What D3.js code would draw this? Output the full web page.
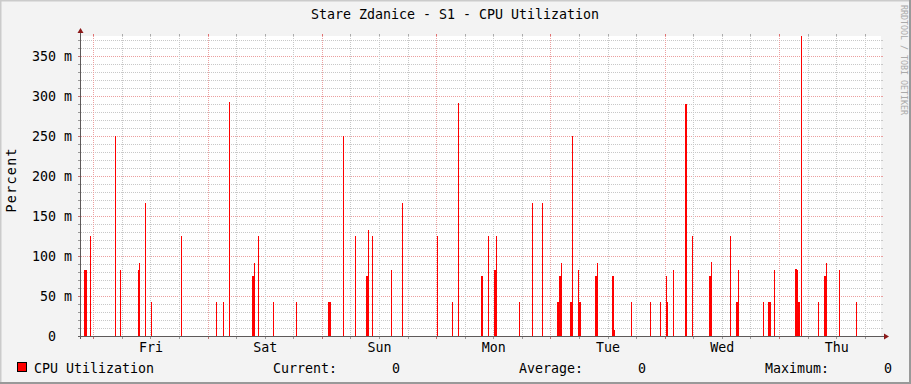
<!DOCTYPE html>
<html><head><meta charset="utf-8">
<script src="https://cdn.jsdelivr.net/npm/d3@7"></script>
<style>
html,body{margin:0;padding:0;background:#f3f3f3;}
svg{display:block;}
text{font-family:"DejaVu Sans Mono",monospace;font-size:13.3px;fill:#000;}
</style></head>
<body>
<svg id="chart" width="911" height="384"></svg>
<script>
// ---------------- data ----------------
const chartTitle = "Stare Zdanice - S1 - CPU Utilization";
const yAxisLabel = "Percent";
const watermark = "RRDTOOL / TOBI OETIKER";
const timeStart = "2024-02-29 21:25";
const timeEnd   = "2024-03-07 21:25";
const yMax = 0.375;
const yTickValues = [0, 0.05, 0.10, 0.15, 0.20, 0.25, 0.30, 0.35];
const yTickLabels = ["0", "50 m", "100 m", "150 m", "200 m", "250 m", "300 m", "350 m"];
const seriesName = "CPU Utilization";
const legendStats = [["Current:", "0"], ["Average:", "0"], ["Maximum:", "0"]];

// start time of each sample run, its duration (minutes) and value (fraction of percent)
const spikeTimes = [
 "2024-02-29 22:03","2024-02-29 23:18",
 "2024-03-01 04:30","2024-03-01 05:36","2024-03-01 09:27","2024-03-01 09:40","2024-03-01 10:51","2024-03-01 12:07","2024-03-01 18:21",
 "2024-03-02 01:46","2024-03-02 03:14","2024-03-02 04:30","2024-03-02 09:20","2024-03-02 09:41","2024-03-02 10:35","2024-03-02 13:44","2024-03-02 18:34",
 "2024-03-03 01:17","2024-03-03 04:22","2024-03-03 06:57","2024-03-03 09:16","2024-03-03 09:41","2024-03-03 10:32","2024-03-03 14:31","2024-03-03 16:50",
 "2024-03-04 00:11","2024-03-04 03:20","2024-03-04 04:36","2024-03-04 09:25","2024-03-04 10:49","2024-03-04 12:09","2024-03-04 12:30","2024-03-04 17:24","2024-03-04 20:08","2024-03-04 22:14",
 "2024-03-05 01:23","2024-03-05 01:48","2024-03-05 02:13","2024-03-05 04:06","2024-03-05 04:28","2024-03-05 05:47","2024-03-05 06:04","2024-03-05 09:21","2024-03-05 09:46","2024-03-05 12:56","2024-03-05 13:21","2024-03-05 16:55","2024-03-05 20:54","2024-03-05 23:00",
 "2024-03-06 00:12","2024-03-06 00:29","2024-03-06 01:44","2024-03-06 04:19","2024-03-06 05:44","2024-03-06 09:18","2024-03-06 09:43","2024-03-06 13:42","2024-03-06 14:58","2024-03-06 15:19","2024-03-06 20:38","2024-03-06 21:41","2024-03-06 22:57",
 "2024-03-07 03:21","2024-03-07 03:43","2024-03-07 04:03","2024-03-07 04:33","2024-03-07 08:11","2024-03-07 09:23","2024-03-07 09:48","2024-03-07 12:36","2024-03-07 16:10"
];
const spikeMinutes = [
 38,10,
 10,10,10,10,10,10,10,
 10,10,10,20,10,10,10,10,
 38,12,10,20,10,10,10,10,
 10,10,10,25,10,20,10,10,10,10,
 25,25,10,20,10,10,20,25,10,25,10,10,10,10,
 10,10,10,25,10,20,10,10,20,10,10,38,10,
 20,15,25,10,10,20,10,10,10
];
const spikeValues = [
 0.083,0.125,
 0.250,0.083,0.083,0.091,0.166,0.042,0.125,
 0.042,0.042,0.293,0.075,0.091,0.125,0.042,0.042,
 0.042,0.250,0.125,0.075,0.133,0.125,0.083,0.166,
 0.125,0.042,0.291,0.075,0.125,0.083,0.125,0.042,0.166,0.166,
 0.042,0.075,0.091,0.042,0.250,0.083,0.042,0.075,0.091,0.075,0.008,0.042,0.042,0.042,
 0.075,0.042,0.083,0.290,0.125,0.075,0.092,0.125,0.042,0.083,0.042,0.042,0.083,
 0.084,0.083,0.042,0.375,0.042,0.075,0.091,0.083,0.042
];

// ---------------- drawing ----------------
const W = 911, H = 384;
const L = 81, R = 881, T = 36, B = 336;
const parse = d3.utcParse("%Y-%m-%d %H:%M");
const t0 = parse(timeStart), t1 = parse(timeEnd);
const x = d3.scaleUtc().domain([t0, t1]).range([L, R]);
const y = d3.scaleLinear().domain([0, yMax]).range([B, T]);

const svg = d3.select("#chart");
// background + frame
svg.append("rect").attr("x",0).attr("y",0).attr("width",W).attr("height",H).attr("fill","#f3f3f3");
svg.append("path").attr("d",`M0.5,${H}V0.5H${W}`).attr("stroke","#cbcbcb").attr("stroke-width",2).attr("fill","none");
svg.append("path").attr("d",`M${W-1},0V${H-1}H0`).attr("stroke","#999999").attr("stroke-width",2).attr("fill","none");

// canvas
svg.append("rect").attr("x",L).attr("y",T).attr("width",R-L).attr("height",B-T).attr("fill","#ffffff");

const crisp = v => Math.round(v) + 0.5;
const grid = svg.append("g").attr("shape-rendering","crispEdges");

// horizontal grid
const yMinor = d3.range(0, yMax + 1e-9, 0.01).map(v => +v.toFixed(3));
yMinor.forEach(v => {
  if (v === 0) return;
  const major = yTickValues.some(t => Math.abs(t - v) < 1e-6);
  const yy = crisp(y(v));
  const col = major ? "#eb9f9f" : "#c8c8c8";
  grid.append("line").attr("x1",L).attr("x2",R).attr("y1",yy).attr("y2",yy)
    .attr("stroke",col).attr("stroke-dasharray","1,1");
  grid.append("line").attr("x1",L-3).attr("x2",L).attr("y1",yy).attr("y2",yy).attr("stroke", major ? "#c07070" : "#999");
  grid.append("line").attr("x1",R).attr("x2",R+2).attr("y1",yy).attr("y2",yy).attr("stroke", major ? "#eb9f9f" : "#c8c8c8");
});

// vertical grid
const xMinor = d3.utcHour.every(6).range(t0, t1);
xMinor.forEach(d => {
  const major = d.getUTCHours() === 0;
  const xx = crisp(x(d));
  const col = major ? "#eb9f9f" : "#c8c8c8";
  grid.append("line").attr("x1",xx).attr("x2",xx).attr("y1",T).attr("y2",B)
    .attr("stroke",col).attr("stroke-dasharray","1,1");
  grid.append("line").attr("x1",xx).attr("x2",xx).attr("y1",T-2).attr("y2",T).attr("stroke", major ? "#e07070" : "#aaa");
  grid.append("line").attr("x1",xx).attr("x2",xx).attr("y1",B).attr("y2",B+3).attr("stroke", major ? "#c07070" : "#999");
});

// spikes
const data = spikeTimes.map((s,i) => ({t: parse(s), m: spikeMinutes[i], v: spikeValues[i]}));
svg.append("g").attr("shape-rendering","crispEdges").selectAll("rect").data(data).join("rect")
  .attr("x", d => Math.round(x(d.t)))
  .attr("width", d => Math.max(1, Math.round(x(new Date(+d.t + d.m*60000)) - x(d.t))))
  .attr("y", d => Math.round(y(d.v)))
  .attr("height", d => B - Math.round(y(d.v)))
  .attr("fill", "#ff0000");

// axes lines
const axisCol = "#5e5a5a", arrowCol = "#8c1a1a";
svg.append("line").attr("x1",L-3).attr("x2",R+3).attr("y1",B+0.5).attr("y2",B+0.5).attr("stroke",axisCol).attr("shape-rendering","crispEdges");
svg.append("line").attr("x1",L-0.5).attr("x2",L-0.5).attr("y1",T-4).attr("y2",B+3).attr("stroke",axisCol).attr("shape-rendering","crispEdges");
svg.append("path").attr("d",`M${R+3},${B-2.5}L${R+8},${B+0.5}L${R+3},${B+3.5}Z`).attr("fill",arrowCol);
svg.append("path").attr("d",`M${L-3.5},${T-3}L${L-0.5},${T-8}L${L+2.5},${T-3}Z`).attr("fill",arrowCol);

// y tick labels via d3 axis
const yAxis = d3.axisLeft(y).tickValues(yTickValues)
  .tickFormat((d,i) => yTickLabels[i]).tickSize(0).tickPadding(0);
const gy = svg.append("g").attr("transform",`translate(${L-9},0)`).call(yAxis);
gy.select(".domain").remove();
gy.selectAll("text").attr("font-family",null).attr("font-size",null).attr("fill","#000")
  .attr("dy","0.35em").attr("dx", (d,i) => yTickLabels[i].indexOf(" ") < 0 ? -16 : 0);

// x labels at noon
const noons = d3.utcDay.range(d3.utcDay.ceil(t0), t1).map(d => d3.utcHour.offset(d, 12)).filter(d => d < t1);
const xAxis = d3.axisBottom(x).tickValues(noons).tickFormat(d3.utcFormat("%a")).tickSize(0).tickPadding(0);
const gx = svg.append("g").attr("transform",`translate(0,${B+16})`).call(xAxis);
gx.select(".domain").remove();
gx.selectAll("text").attr("font-family",null).attr("font-size",null).attr("fill","#000").attr("dy",null);

// title
svg.append("text").attr("x",455).attr("y",19).attr("text-anchor","middle").text(chartTitle);
// y label
svg.append("text").attr("transform","translate(16,180.5) rotate(-90)").attr("text-anchor","middle")
  .attr("textLength",64).attr("lengthAdjust","spacing").text(yAxisLabel);
// watermark
svg.append("text").attr("transform","translate(901,5) rotate(90)").style("font-size","8.3px").style("fill","#aaaaaa")
  .text(watermark);

// legend
svg.append("rect").attr("x",17.5).attr("y",362.5).attr("width",9).attr("height",9)
  .attr("fill","#ff0000").attr("stroke","#000").attr("shape-rendering","crispEdges");
svg.append("text").attr("x",34).attr("y",373).text(seriesName);
const statX = [[273,400],[519,646],[765,892]];
legendStats.forEach((s,i) => {
  svg.append("text").attr("x",statX[i][0]).attr("y",373).text(s[0]);
  svg.append("text").attr("x",statX[i][1]).attr("y",373).attr("text-anchor","end").text(s[1]);
});
</script>
</body></html>
